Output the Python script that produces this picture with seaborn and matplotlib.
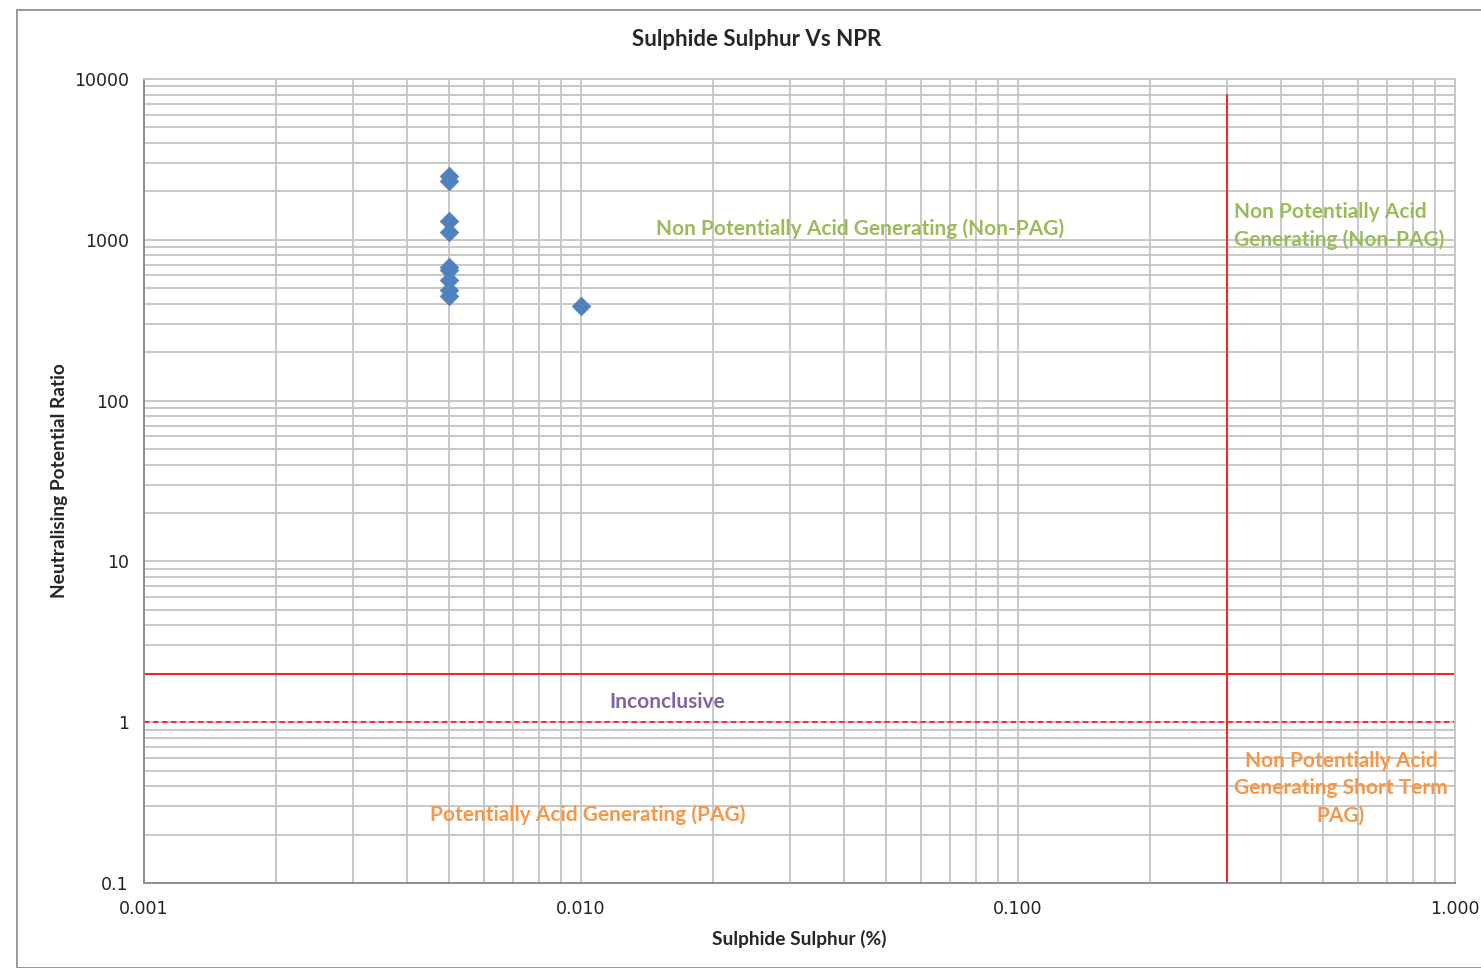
import matplotlib
matplotlib.use("Agg")
import matplotlib.pyplot as plt
import matplotlib.ticker as mticker
from matplotlib.patches import Rectangle
import seaborn as sns
import pandas as pd

# Data
sulphide_s = [0.005, 0.005, 0.005, 0.005, 0.005, 0.005, 0.005, 0.005, 0.005, 0.010]
npr = [2490, 2330, 1310, 1120, 680, 650, 560, 490, 445, 390]
x_ticks = [0.001, 0.01, 0.1, 1.0]
x_tick_labels = ["0.001", "0.010", "0.100", "1.000"]
y_ticks = [0.1, 1, 10, 100, 1000, 10000]
y_tick_labels = ["0.1", "1", "10", "100", "1000", "10000"]
s_threshold = 0.3
npr_upper = 2
npr_lower = 1

df = pd.DataFrame({"S": sulphide_s, "NPR": npr})

sns.set_style("white")
plt.rcParams['font.family'] = ['Lato', 'DejaVu Sans']

W, H = 1481, 968
fig = plt.figure(figsize=(W / 100, H / 100), dpi=100)
ax = fig.add_axes([144 / W, 1 - 883 / H, (1455 - 144) / W, (883 - 79) / H])

# outer border
fig.patches.append(Rectangle((17 / W, 0), 1.5, 1 - 10 / H, transform=fig.transFigure,
                             fill=False, edgecolor="#888888", linewidth=1.2))

ax.set_xscale("log")
ax.set_yscale("log")
ax.set_xlim(0.001, 1.0)
ax.set_ylim(0.1, 10000)

grid_c = "#c4c4c4"
ax.grid(True, which="major", color=grid_c, linewidth=1.3)
ax.grid(True, which="minor", color=grid_c, linewidth=1.3)
ax.xaxis.set_minor_locator(mticker.LogLocator(base=10, subs=range(2, 10), numticks=20))
ax.yaxis.set_minor_locator(mticker.LogLocator(base=10, subs=range(2, 10), numticks=20))
ax.set_axisbelow(True)

# threshold lines
ax.plot([s_threshold, s_threshold], [0.1, 8000], color="#ff2020", linewidth=1.4, zorder=2)
ax.axhline(npr_upper, color="#ff2020", linewidth=1.4, zorder=2)
ax.axhline(npr_lower, color="#ff2020", linewidth=1.3, linestyle=(0, (3, 2)), zorder=2)

sns.scatterplot(data=df, x="S", y="NPR", marker="D", s=90, color="#4f81bd",
                edgecolor="#4f81bd", linewidth=0.5, ax=ax, zorder=3, legend=False)

ax.set_xticks(x_ticks)
ax.set_xticklabels(x_tick_labels)
ax.set_yticks(y_ticks)
ax.set_yticklabels(y_tick_labels)
ax.tick_params(axis="both", which="major", labelsize=12.5, length=6, color="#888888",
               labelcolor="#222222", direction="out")
ax.tick_params(axis="x", which="major", pad=6)
ax.tick_params(axis="y", which="major", pad=5)
ax.tick_params(axis="both", which="minor", length=0)
for lbl in ax.get_xticklabels() + ax.get_yticklabels():
    lbl.set_family("DejaVu Sans")

for side in ["top", "right"]:
    ax.spines[side].set_color(grid_c)
    ax.spines[side].set_linewidth(1.3)
for side in ["left", "bottom"]:
    ax.spines[side].set_color("#888888")
    ax.spines[side].set_linewidth(1.3)

ax.set_xlabel("Sulphide Sulphur (%)", fontsize=13.8, fontweight="bold", labelpad=9)
ax.set_ylabel("Neutralising Potential Ratio", fontsize=13.8, fontweight="bold", labelpad=4)
fig.text(757 / W, 1 - 39 / H, "Sulphide Sulphur Vs NPR", fontsize=16, fontweight="bold",
         ha="center", va="center")

green = "#9bbb59"
orange = "#f79646"
purple = "#8064a2"
fs = 15.0
ax.text(0.0435, 1166, "Non Potentially Acid Generating (Non-PAG)", color=green,
        fontsize=fs, fontweight="bold", ha="center", va="center")
ax.text(0.01574, 1.335, "Inconclusive", color=purple, fontsize=fs, fontweight="bold",
        ha="center", va="center")
ax.text(0.01037, 0.265, "Potentially Acid Generating (PAG)", color=orange, fontsize=fs,
        fontweight="bold", ha="center", va="center")
ax.text(0.312, 1220, "Non Potentially Acid\nGenerating (Non-PAG)", color=green,
        fontsize=fs, fontweight="bold", ha="left", va="center", linespacing=1.45)
ax.text(0.548, 0.39, "Non Potentially Acid\nGenerating Short Term\nPAG)", color=orange,
        fontsize=fs, fontweight="bold", ha="center", va="center", linespacing=1.45)

fig.savefig("out.png", dpi=100)
